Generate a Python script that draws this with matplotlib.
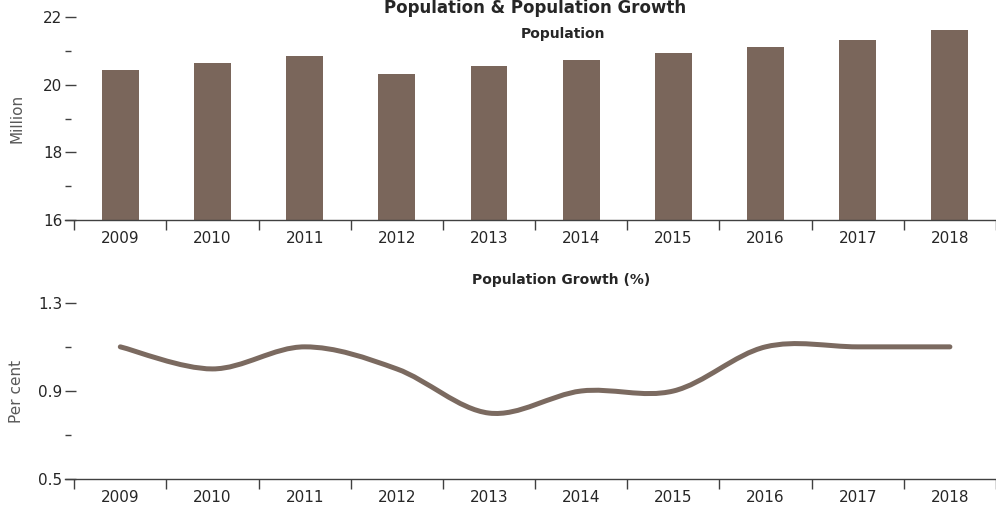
import numpy as np
import matplotlib.pyplot as plt
from matplotlib.path import Path
from matplotlib.patches import PathPatch
from matplotlib.ticker import FixedLocator

years = ['2009', '2010', '2011', '2012', '2013', '2014', '2015', '2016', '2017', '2018']
population = [20.42, 20.64, 20.84, 20.33, 20.54, 20.74, 20.95, 21.10, 21.31, 21.62]
growth = [1.1, 1.0, 1.1, 1.0, 0.8, 0.9, 0.9, 1.1, 1.1, 1.1]

pop_ticks = [16, 18, 20, 22]
pop_minor = [17, 19, 21]
growth_ticks = [0.5, 0.9, 1.3]
growth_minor = [0.7, 1.1]

brown = '#7a665b'
line_brown = '#7b6a60'
dark = '#404040'
txt = '#262626'

plt.rcParams['font.family'] = ['DejaVu Sans']

W, H = 996, 508
fig = plt.figure(figsize=(W / 100, H / 100), dpi=100)


def px_axes(left, top, right, bottom):
    return fig.add_axes([left / W, 1 - bottom / H, (right - left) / W, (bottom - top) / H])


def style_axes(ax, major, minor, label):
    x = np.arange(len(years))
    ax.set_xlim(-0.6, len(years) - 0.5)
    ax.set_ylim(major[0], major[-1])
    for s in ['left', 'right', 'top']:
        ax.spines[s].set_visible(False)
    ax.spines['bottom'].set_color(dark)
    ax.spines['bottom'].set_linewidth(1.0)
    ax.set_xticks(x)
    ax.set_xticklabels(years)
    ax.xaxis.set_minor_locator(FixedLocator(np.arange(len(years) + 1) - 0.5))
    ax.tick_params(axis='x', which='major', length=0, pad=8, labelsize=11, labelcolor=txt)
    ax.tick_params(axis='x', which='minor', length=7, width=1.0, color=dark, direction='out')
    ax.set_yticks(major)
    ax.set_yticklabels([f'{v:g}' for v in major])
    ax.yaxis.set_minor_locator(FixedLocator(minor))
    ax.tick_params(axis='y', which='major', length=8, width=1.0, color=dark, direction='in',
                   labelsize=11, labelcolor=txt, pad=2)
    ax.tick_params(axis='y', which='minor', length=4, width=1.0, color=dark, direction='in')
    ax.set_ylabel(label, fontsize=11, color='#595959')
    # same x position for both axis titles
    ax.yaxis.set_label_coords((24 - 65) / (996 - 65), 0.5)


# top: population bars
ax1 = px_axes(65, 17, 996, 220)
ax1.bar(np.arange(len(years)), population, width=0.4, color=brown, zorder=2)
style_axes(ax1, pop_ticks, pop_minor, 'Million')

# bottom: growth line, smoothed like a spreadsheet smooth line
ax2 = px_axes(65, 302.7, 996, 479.3)
style_axes(ax2, growth_ticks, growth_minor, 'Per cent')

pts = np.column_stack([np.arange(len(years)), growth]).astype(float)
ext = np.vstack([pts[0], pts, pts[-1]])
verts = [pts[0]]
codes = [Path.MOVETO]
for i in range(len(pts) - 1):
    p0, p1, p2, p3 = ext[i], ext[i + 1], ext[i + 2], ext[i + 3]
    verts += [p1 + (p2 - p0) / 6, p2 - (p3 - p1) / 6, p2]
    codes += [Path.CURVE4] * 3
ax2.add_patch(PathPatch(Path(verts, codes), fill=False, edgecolor=line_brown,
                        linewidth=3.6, capstyle='round', joinstyle='round', zorder=3))

# titles
fig.text(535 / W, 1 - 13 / H, 'Population & Population Growth', ha='center', va='baseline',
         fontsize=12, fontweight='bold', color=txt)
fig.text(563 / W, 1 - 34 / H, 'Population', ha='center', va='center',
         fontsize=10, fontweight='bold', color=txt)
fig.text(561 / W, 1 - 280 / H, 'Population Growth (%)', ha='center', va='center',
         fontsize=10, fontweight='bold', color=txt)

fig.savefig('out.png', dpi=100)
